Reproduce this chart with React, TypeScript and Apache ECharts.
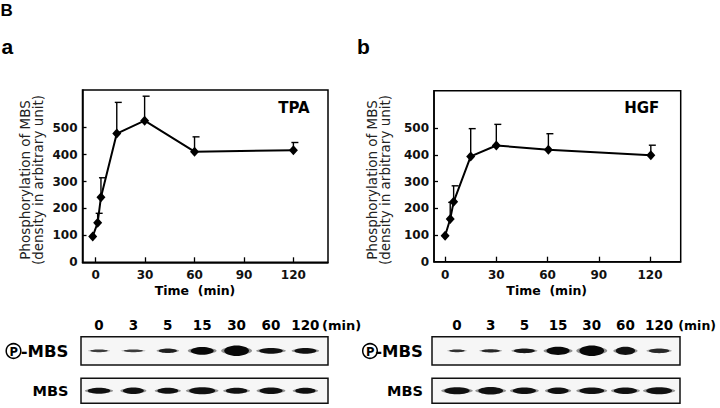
import React, { useEffect, useRef } from "react";
import * as echarts from "echarts";

// ---------- data ----------
const timeTicks = [0, 30, 60, 90, 120];
const yLabelValues = [0, 100, 200, 300, 400, 500];
const yTickValues = [100, 200, 300, 400, 500];

const tpaTime = [-1.8, 1.2, 3.2, 12.8, 29.7, 60, 120];
const tpaMean = [96, 147, 242, 478, 526, 411, 416];
const tpaUpper = [96, 182, 314, 594, 617, 466, 445];

const hgfTime = [0, 3, 5, 15, 30, 60.5, 120.5];
const hgfMean = [97, 160, 224, 394, 435, 419, 398];
const hgfUpper = [97, 222, 284, 498, 514, 479, 436];

const laneLabels = ["0", "3", "5", "15", "30", "60", "120"];

// blot bands: width (lane units), thickness (fraction of strip), darkness
const tpaPhosWidth = [0.64, 0.7, 0.66, 0.84, 0.9, 0.86, 0.8];
const tpaPhosThick = [0.1, 0.1, 0.16, 0.28, 0.37, 0.21, 0.21];
const tpaPhosDark = [0.7, 0.7, 0.85, 1, 1, 0.95, 0.95];
const tpaTotalWidth = [0.82, 0.76, 0.76, 0.95, 0.78, 0.84, 0.74];
const tpaTotalThick = [0.24, 0.26, 0.24, 0.28, 0.24, 0.26, 0.24];
const tpaTotalDark = [0.95, 0.95, 0.95, 0.95, 0.95, 0.95, 0.95];

const hgfPhosWidth = [0.58, 0.68, 0.78, 0.86, 0.92, 0.72, 0.76];
const hgfPhosThick = [0.1, 0.12, 0.17, 0.29, 0.37, 0.29, 0.17];
const hgfPhosDark = [0.75, 0.8, 0.9, 1, 1, 0.95, 0.8];
const hgfTotalWidth = [0.94, 0.92, 0.86, 0.78, 0.92, 0.86, 0.96];
const hgfTotalThick = [0.28, 0.3, 0.26, 0.26, 0.26, 0.26, 0.28];
const hgfTotalDark = [0.95, 0.95, 0.95, 0.95, 0.95, 0.95, 0.95];

// ---------- helpers ----------
const BOLD = { fontFamily: "DejaVu Sans", fontWeight: "bold" as const, color: "#111" };

function lineAxes(gridIndex: number, xmin: number, xmax: number) {
  return {
    x: {
      type: "value",
      gridIndex,
      min: xmin,
      max: xmax,
      axisLine: { show: true, onZero: false, lineStyle: { color: "#000", width: 1.5 } },
      axisTick: {
        show: true,
        inside: true,
        length: 5,
        customValues: timeTicks,
        lineStyle: { color: "#000", width: 1.3 },
      },
      axisLabel: { customValues: timeTicks, margin: 7, fontSize: 12, ...BOLD },
      splitLine: { show: false },
    },
    y: {
      type: "value",
      gridIndex,
      min: 0,
      max: 640,
      axisLine: { show: true, onZero: false, lineStyle: { color: "#000", width: 1.5 } },
      axisTick: {
        show: true,
        inside: true,
        length: 4,
        customValues: yTickValues,
        lineStyle: { color: "#000", width: 1.3 },
      },
      axisLabel: { customValues: yLabelValues, margin: 5, fontSize: 12, ...BOLD },
      splitLine: { show: false },
    },
  };
}

function lineSeries(idx: number, times: number[], mean: number[]) {
  return {
    type: "line",
    xAxisIndex: idx,
    yAxisIndex: idx,
    data: times.map((t, i) => [t, mean[i]]),
    symbol: "diamond",
    symbolSize: [9, 10],
    itemStyle: { color: "#000" },
    lineStyle: { color: "#000", width: 2 },
    z: 4,
  };
}

function errorSeries(idx: number, times: number[], mean: number[], upper: number[]) {
  return {
    type: "custom",
    xAxisIndex: idx,
    yAxisIndex: idx,
    data: times.map((t, i) => [t, mean[i], upper[i]]),
    encode: { x: 0, y: [1, 2] },
    z: 3,
    renderItem: (params: any, api: any) => {
      const x = api.value(0);
      const m = api.value(1);
      const u = api.value(2);
      if (u <= m) return { type: "group", children: [] };
      const p0 = api.coord([x, m]);
      const p1 = api.coord([x, u]);
      const st = { stroke: "#000", lineWidth: 1.4 };
      return {
        type: "group",
        children: [
          { type: "line", shape: { x1: p0[0], y1: p0[1], x2: p1[0], y2: p1[1] }, style: st },
          { type: "line", shape: { x1: p1[0] - 2, y1: p1[1], x2: p1[0] + 5, y2: p1[1] }, style: st },
        ],
      };
    },
  };
}

function blotAxes(gridIndex: number, xmin: number, xmax: number, labels: boolean) {
  return {
    x: {
      type: "value",
      gridIndex,
      min: xmin,
      max: xmax,
      position: "top",
      axisLine: { show: false },
      axisTick: { show: false },
      splitLine: { show: false },
      axisLabel: {
        show: labels,
        customValues: [0, 1, 2, 3, 4, 5, 6],
        formatter: (v: number) => laneLabels[Math.round(v)] ?? "",
        margin: 5,
        fontSize: 13.5,
        ...BOLD,
        color: "#000",
      },
    },
    y: { type: "value", gridIndex, min: 0, max: 1, show: false },
  };
}

function bandSeries(idx: number, width: number[], thick: number[], dark: number[]) {
  return {
    type: "custom",
    xAxisIndex: idx,
    yAxisIndex: idx,
    data: width.map((w, i) => [i, w, thick[i], dark[i]]),
    renderItem: (params: any, api: any) => {
      const c = api.coord([api.value(0), 0.5]);
      const w = api.size([api.value(1), 0])[0];
      const h = api.size([0, api.value(2)])[1];
      const d = api.value(3);
      return {
        type: "group",
        children: [
          {
            type: "ellipse",
            shape: { cx: c[0], cy: c[1], rx: w / 2, ry: h / 2.6 },
            style: { fill: `rgba(40,40,40,${(d * 0.5).toFixed(3)})` },
          },
          {
            type: "ellipse",
            shape: { cx: c[0], cy: c[1], rx: (w / 2) * 0.8, ry: h / 2 },
            style: { fill: `rgba(8,8,8,${d.toFixed(3)})` },
          },
        ],
      };
    },
  };
}

function txt(x: number, y: number, text: string, size: number, opts: any = {}) {
  const align = opts.align || "left";
  const valign = opts.valign || "middle";
  return {
    type: "text",
    x,
    y,
    rotation: opts.rotation || 0,
    silent: true,
    style: {
      text,
      x: 0,
      y: 0,
      fontFamily: opts.family || "DejaVu Sans",
      fontWeight: opts.weight || "bold",
      fontSize: size,
      lineHeight: opts.lineHeight,
      fill: opts.fill || "#000",
      align,
      verticalAlign: valign,
      textAlign: align,
      textVerticalAlign: valign,
    },
  };
}

function circledP(cx: number, cy: number) {
  return [
    {
      type: "circle",
      silent: true,
      shape: { cx, cy, r: 7.3 },
      style: { fill: "none", stroke: "#000", lineWidth: 1.5 },
    },
    txt(cx + 0.3, cy + 0.5, "P", 11.5, { align: "center" }),
  ];
}

export default function App() {
  const ref = useRef<HTMLDivElement>(null);

  useEffect(() => {
    if (!ref.current) return;
    const chart = echarts.init(ref.current, undefined, { renderer: "svg" });

    const a = lineAxes(0, -8, 141);
    const b = lineAxes(1, -6.5, 138);
    const ap = blotAxes(2, -0.523, 6.657, true);
    const at = blotAxes(3, -0.523, 6.657, false);
    const bp = blotAxes(4, -0.742, 6.62, true);
    const bt = blotAxes(5, -0.742, 6.62, false);

    const lineGrid = { show: true, borderColor: "#000", borderWidth: 1.5, containLabel: false };
    const blotGrid = {
      show: true,
      borderColor: "#111",
      borderWidth: 1.5,
      backgroundColor: "#f6f6f6",
      containLabel: false,
    };

    const option: any = {
      animation: false,
      backgroundColor: "#fff",
      grid: [
        { ...lineGrid, left: 82.5, top: 90, width: 245.5, height: 172.3 },
        { ...lineGrid, left: 434, top: 90.7, width: 246.7, height: 171 },
        { ...blotGrid, left: 81, top: 336.7, width: 247, height: 28.3 },
        { ...blotGrid, left: 81, top: 378.3, width: 247, height: 25 },
        { ...blotGrid, left: 432, top: 336.7, width: 248, height: 28.3 },
        { ...blotGrid, left: 432, top: 378.3, width: 248, height: 25 },
      ],
      xAxis: [a.x, b.x, ap.x, at.x, bp.x, bt.x],
      yAxis: [a.y, b.y, ap.y, at.y, bp.y, bt.y],
      series: [
        errorSeries(0, tpaTime, tpaMean, tpaUpper),
        lineSeries(0, tpaTime, tpaMean),
        errorSeries(1, hgfTime, hgfMean, hgfUpper),
        lineSeries(1, hgfTime, hgfMean),
        bandSeries(2, tpaPhosWidth, tpaPhosThick, tpaPhosDark),
        bandSeries(3, tpaTotalWidth, tpaTotalThick, tpaTotalDark),
        bandSeries(4, hgfPhosWidth, hgfPhosThick, hgfPhosDark),
        bandSeries(5, hgfTotalWidth, hgfTotalThick, hgfTotalDark),
      ],
      graphic: [
        txt(0.5, 10.5, "B", 17, { family: "Liberation Sans" }),
        txt(1.5, 46, "a", 21, { family: "Liberation Sans" }),
        txt(357, 46, "b", 21, { family: "Liberation Sans" }),
        txt(294, 108, "TPA", 15, { align: "center" }),
        txt(641.7, 108, "HGF", 15, { align: "center" }),
        txt(31.5, 180, "Phosphorylation of MBS\n(density in arbitrary unit)", 13.5, {
          align: "center",
          rotation: Math.PI / 2,
          weight: "normal",
          lineHeight: 13,
          fill: "#222",
        }),
        txt(378, 180, "Phosphorylation of MBS\n(density in arbitrary unit)", 13.5, {
          align: "center",
          rotation: Math.PI / 2,
          weight: "normal",
          lineHeight: 13,
          fill: "#222",
        }),
        txt(195, 290, "Time  (min)", 12.5, { align: "center" }),
        txt(546.7, 290, "Time  (min)", 12.5, { align: "center" }),
        txt(322, 325, "(min)", 13),
        txt(716, 325, "(min)", 12.5, { align: "right" }),
        ...circledP(13.5, 351),
        txt(68.5, 351, "-MBS", 16.5, { align: "right" }),
        txt(68.5, 391, "MBS", 14.5, { align: "right" }),
        ...circledP(370, 351),
        txt(423, 351, "-MBS", 16.5, { align: "right" }),
        txt(423, 391, "MBS", 14.5, { align: "right" }),
      ],
    };

    chart.setOption(option);
    return () => chart.dispose();
  }, []);

  return (
    <div
      ref={ref}
      style={{ position: "absolute", left: 0, top: 0, width: 720, height: 408, background: "#fff" }}
    />
  );
}
